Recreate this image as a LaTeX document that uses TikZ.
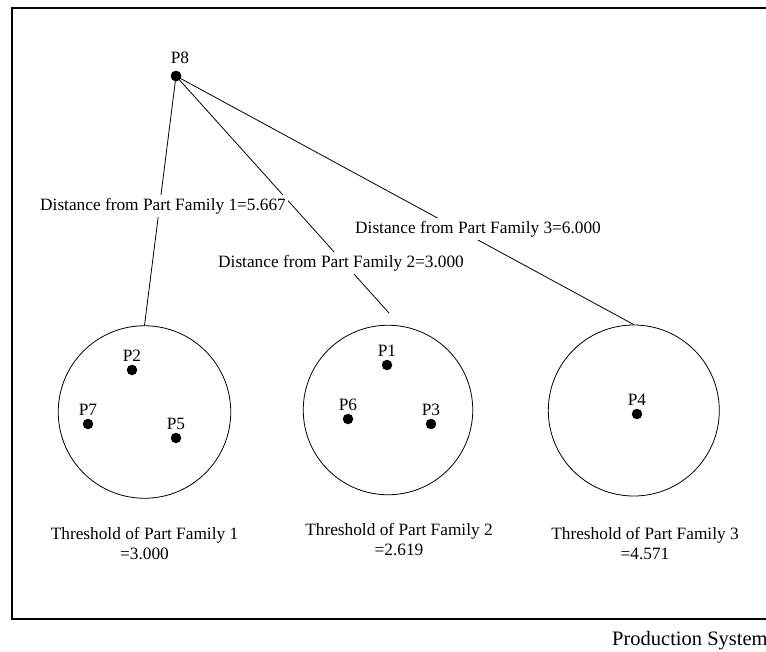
\documentclass[tikz,border=0pt]{standalone}
\usepackage{fontspec}
\setmainfont{Liberation Serif}
\begin{document}
\begin{tikzpicture}[x=1pt,y=-1pt,
  dot/.style={circle,fill=black,inner sep=0pt,minimum size=10.5pt},
  ptlabel/.style={anchor=base,inner sep=0pt,font=\fontsize{17.3}{20}\selectfont},
  family/.style={circle,draw=black,line width=0.8pt,inner sep=0pt},
  link/.style={draw=black,line width=0.8pt},
  distlabel/.style={anchor=base west,fill=white,inner xsep=2pt,inner ysep=3pt,font=\fontsize{17.3}{20}\selectfont},
  threshold/.style={anchor=base,align=center,inner sep=0pt,font=\fontsize{17.3}{20}\selectfont}]
\useasboundingbox (0,0) rectangle (766,651);
\clip (0,0) rectangle (766,651);

% outer frame (runs off the right edge)
\draw[line width=1.2pt] (12,8) rectangle (790,619);

% part family thresholds
\node[family,minimum size=172.5pt] (fam1) at (144.5,412) {};
\node[family,minimum size=169.5pt] (fam2) at (388,410) {};
\node[family,minimum size=171pt]   (fam3) at (633.8,410.5) {};

% parts
\node[dot] (p8) at (176,76) {};
\node[dot] (p2) at (132,370) {};
\node[dot] (p7) at (88,424) {};
\node[dot] (p5) at (176,438) {};
\node[dot] (p1) at (387,365) {};
\node[dot] (p6) at (348,419) {};
\node[dot] (p3) at (431,424) {};
\node[dot] (p4) at (637,414) {};

% distances from P8
\coordinate (end2) at (389,313);
\draw[link] (p8.center) -- (fam1.north);
\draw[link] (p8.center) -- (end2);
\draw[link] (p8.center) -- (fam3.north);
\node[dot] at (p8) {};

\node[distlabel] (d1) at (38,210) {Distance from Part Family 1=5.667};
\node[distlabel] (d2) at (216,267) {Distance from Part Family 2=3.000};
\node[distlabel] (d3) at (353,233) {Distance from Part Family 3=6.000};

% part labels
\node[ptlabel] (l8) at (180,63) {P8};
\node[ptlabel] (l2) at (132,361.5) {P2};
\node[ptlabel] (l7) at (88,415) {P7};
\node[ptlabel] (l5) at (176,429.5) {P5};
\node[ptlabel] (l1) at (387,356.5) {P1};
\node[ptlabel] (l6) at (348,410) {P6};
\node[ptlabel] (l3) at (431,415) {P3};
\node[ptlabel] (l4) at (637,405.5) {P4};

% threshold captions (base = baseline of the second line)
\node[threshold] (t1) at (144.5,559) {Threshold of Part Family 1\\=3.000};
\node[threshold] (t2) at (399,555) {Threshold of Part Family 2\\=2.619};
\node[threshold] (t3) at (645,559) {Threshold of Part Family 3\\=4.571};

\node[anchor=base west,inner sep=0pt,font=\fontsize{20.5}{24}\selectfont] (sys) at (612,645) {Production System};
\end{tikzpicture}
\end{document}
